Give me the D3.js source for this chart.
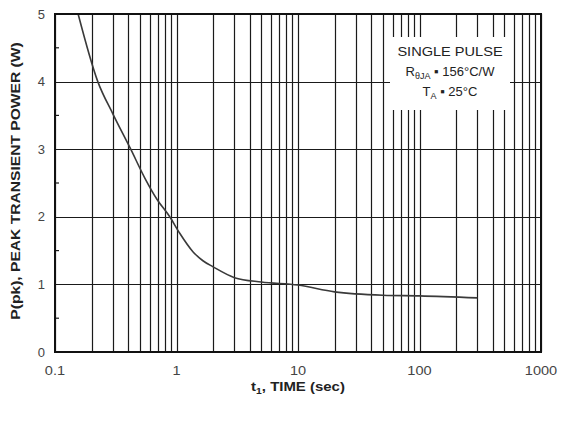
<!DOCTYPE html>
<html>
<head>
<meta charset="utf-8">
<script src="https://cdn.jsdelivr.net/npm/d3@7"></script>
<style>
  html, body { margin: 0; padding: 0; background: #fff; }
  svg { display: block; font-family: "Liberation Sans", Arial, sans-serif; }
</style>
</head>
<body>
<svg id="chart" width="565" height="421"></svg>
<script>
// Single-pulse peak transient power vs. pulse time
const timeSec = [0.155, 0.225, 0.3, 0.42, 0.55, 0.69, 0.88, 1.06, 1.37, 1.65, 2, 3, 5, 10, 20, 50, 100, 300];
const peakPowerW = [5.0, 4.0, 3.52, 3.0, 2.57, 2.26, 2.0, 1.76, 1.48, 1.35, 1.26, 1.1, 1.035, 0.99, 0.89, 0.84, 0.83, 0.8];

const xTickValues = [0.1, 1, 10, 100, 1000];
const xTickLabels = ["0.1", "1", "10", "100", "1000"];
const yTickValues = [0, 1, 2, 3, 4, 5];
const yMinorTicks = [0.5, 1.5, 2.5, 3.5, 4.5];
const legendLines = ["SINGLE PULSE", "R", "T"];

const svg = d3.select("#chart");
const margin = { left: 55, top: 14, right: 24, bottom: 69 };
const W = 565, H = 421;
const x = d3.scaleLog().domain([0.1, 1000]).range([margin.left, W - margin.right]);
const y = d3.scaleLinear().domain([0, 5]).range([H - margin.bottom, margin.top]);

// Widen text a little (the lettering is slightly broad)
function widen(sel, k) {
  sel.each(function () {
    const w = this.getComputedTextLength();
    d3.select(this).attr("textLength", w * k).attr("lengthAdjust", "spacingAndGlyphs");
  });
}

// Full log grid: every 1..9 step in each decade
const gridX = [];
for (let d = 0.1; d < 1000; d *= 10) {
  for (let k = 1; k <= 9; k++) gridX.push(+(d * k).toPrecision(3));
}
gridX.push(1000);

const grid = svg.append("g").attr("stroke", "#1a1a1a").attr("stroke-width", 1.2);
grid.selectAll("line.v").data(gridX).join("line").attr("class", "v")
  .attr("x1", d => Math.round(x(d)) + 0.5).attr("x2", d => Math.round(x(d)) + 0.5)
  .attr("y1", y(0)).attr("y2", y(5));
grid.selectAll("line.h").data(yTickValues).join("line").attr("class", "h")
  .attr("x1", x(0.1)).attr("x2", x(1000))
  .attr("y1", d => Math.round(y(d)) + 0.5).attr("y2", d => Math.round(y(d)) + 0.5);

// Minor ticks on the left axis
svg.append("g").attr("stroke", "#1a1a1a").attr("stroke-width", 1.2)
  .selectAll("line").data(yMinorTicks).join("line")
  .attr("x1", x(0.1)).attr("x2", x(0.1) + 4)
  .attr("y1", d => y(d)).attr("y2", d => y(d));

// Curve
const line = d3.line()
  .x((d, i) => x(timeSec[i]))
  .y(d => y(d))
  .curve(d3.curveMonotoneX);
svg.append("path").datum(peakPowerW)
  .attr("fill", "none").attr("stroke", "#3a3a3a").attr("stroke-width", 1.6)
  .attr("d", line);

// Legend box (white, covers the grid)
const bx = 390, by = 37, bw = 120, bh = 73;
svg.append("rect").attr("x", bx).attr("y", by).attr("width", bw).attr("height", bh).attr("fill", "#fff");
const lg = svg.append("g").attr("fill", "#222").attr("font-size", 13).attr("text-anchor", "middle");
const cx = bx + bw / 2;
const l1 = lg.append("text").attr("x", cx).attr("y", 56).text(legendLines[0]);
const r = lg.append("text").attr("x", cx).attr("y", 76);
r.append("tspan").text(legendLines[1]);
r.append("tspan").attr("font-size", 9).attr("dy", 3).text("θJA");
r.append("tspan").attr("dy", -3).text(" ▪ 156°C/W");
const t = lg.append("text").attr("x", cx).attr("y", 96);
t.append("tspan").text(legendLines[2]);
t.append("tspan").attr("font-size", 9).attr("dy", 3).text("A");
t.append("tspan").attr("dy", -3).text(" ▪ 25°C");
widen(l1, 1.12);

// Frame
svg.append("rect").attr("x", x(0.1)).attr("y", y(5))
  .attr("width", x(1000) - x(0.1)).attr("height", y(0) - y(5))
  .attr("fill", "none").attr("stroke", "#111").attr("stroke-width", 2);

// Tick labels
const xl = svg.append("g").attr("font-size", 13).attr("fill", "#444").attr("text-anchor", "middle")
  .selectAll("text").data(xTickValues).join("text")
  .attr("x", d => x(d)).attr("y", y(0) + 23)
  .text((d, i) => xTickLabels[i]);
widen(xl, 1.12);
const yl = svg.append("g").attr("font-size", 13).attr("fill", "#444").attr("text-anchor", "end")
  .selectAll("text").data(yTickValues).join("text")
  .attr("x", 45).attr("y", d => y(d) + 4.5)
  .text(d => d);

// Axis titles
const xt = svg.append("text").attr("x", 298).attr("y", 391).attr("text-anchor", "middle")
  .attr("font-size", 13).attr("font-weight", "bold").attr("fill", "#222");
xt.append("tspan").text("t");
xt.append("tspan").attr("font-size", 9).attr("dy", 3).text("1");
xt.append("tspan").attr("dy", -3).text(", TIME (sec)");
widen(xt, 1.15);

const yt = svg.append("text").attr("transform", "translate(20," + (y(2.5) - 2) + ") rotate(-90)")
  .attr("text-anchor", "middle").attr("font-size", 13).attr("font-weight", "bold").attr("fill", "#222")
  .text("P(pk), PEAK TRANSIENT POWER (W)");
widen(yt, 1.2);
</script>
</body>
</html>
